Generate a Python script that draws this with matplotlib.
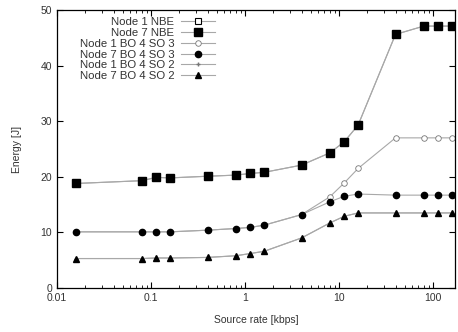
import matplotlib.pyplot as plt
from matplotlib.ticker import LogLocator, NullFormatter, FixedLocator

plt.rcParams['font.family'] = ['Liberation Sans', 'DejaVu Sans']

rate = [0.016, 0.08, 0.114, 0.16, 0.4, 0.8, 1.14, 1.6, 4, 8, 11.4, 16, 40, 80, 114, 160]

node1_nbe = [18.8, 19.3, 19.9, 19.8, 20.1, 20.3, 20.6, 20.8, 22.1, 24.3, 26.3, 29.3, 45.6, 47.1, 47.1, 47.1]
node7_nbe = [18.8, 19.3, 19.9, 19.8, 20.1, 20.3, 20.6, 20.8, 22.1, 24.3, 26.3, 29.3, 45.6, 47.1, 47.1, 47.1]
node1_so3 = [10.1, 10.1, 10.1, 10.1, 10.4, 10.7, 10.9, 11.3, 13.2, 16.4, 18.9, 21.5, 27.0, 27.0, 27.0, 27.0]
node7_so3 = [10.1, 10.1, 10.1, 10.1, 10.4, 10.7, 10.9, 11.3, 13.2, 15.5, 16.5, 16.9, 16.7, 16.7, 16.7, 16.7]
node1_so2 = [5.3, 5.3, 5.4, 5.4, 5.5, 5.8, 6.2, 6.6, 9.0, 11.7, 12.9, 13.5, 13.5, 13.5, 13.5, 13.5]
node7_so2 = [5.3, 5.3, 5.4, 5.4, 5.5, 5.8, 6.2, 6.6, 9.0, 11.7, 12.9, 13.5, 13.5, 13.5, 13.5, 13.5]

LINE = '#a8a8a8'
TXT = '#333333'

fig = plt.figure(figsize=(4.58, 3.32), dpi=100)
ax = fig.add_axes([0.1245, 0.1325, 0.8685, 0.8375])

ax.plot(rate, node1_nbe, color=LINE, lw=0.8, marker='s', ms=4, mfc='white', mec='black', mew=0.8, label='Node 1 NBE')
ax.plot(rate, node7_nbe, color=LINE, lw=0.8, marker='s', ms=6, mfc='black', mec='black', label='Node 7 NBE')
ax.plot(rate, node1_so3, color=LINE, lw=0.8, marker='o', ms=4, mfc='white', mec='#777777', mew=0.6, label='Node 1 BO 4 SO 3')
ax.plot(rate, node7_so3, color=LINE, lw=0.8, marker='o', ms=4.5, mfc='black', mec='black', label='Node 7 BO 4 SO 3')
ax.plot(rate, node1_so2, color=LINE, lw=0.8, marker='+', ms=3, mec='#777777', label='Node 1 BO 4 SO 2')
ax.plot(rate, node7_so2, color=LINE, lw=0.8, marker='^', ms=4, mfc='black', mec='black', label='Node 7 BO 4 SO 2')

ax.set_xscale('log')
ax.set_xlim(0.01, 171)
ax.set_ylim(0, 50)
ax.xaxis.set_major_locator(FixedLocator([0.01, 0.1, 1, 10, 100]))
ax.set_xticklabels(['0.01', '0.1', '1', '10', '100'])
ax.xaxis.set_minor_locator(LogLocator(base=10, subs=range(2, 10), numticks=20))
ax.xaxis.set_minor_formatter(NullFormatter())
ax.set_yticks([0, 10, 20, 30, 40, 50])

ax.tick_params(which='both', direction='in', top=True, right=True, colors='black', labelcolor=TXT, labelsize=7.5)
ax.tick_params(which='major', length=4, width=0.8)
ax.tick_params(which='minor', length=2, width=0.6)
for s in ax.spines.values():
    s.set_linewidth(0.9)

ax.set_xlabel('Source rate [kbps]', fontsize=7.5, color=TXT, labelpad=9)
ax.set_ylabel('Energy [J]', fontsize=7.5, color=TXT, labelpad=13)

leg = ax.legend(loc='upper right', bbox_to_anchor=(0.415, 1.0), markerfirst=False, frameon=False,
                fontsize=8.2, handlelength=3.0, handletextpad=0.6, labelspacing=0.08, borderaxespad=0.2)
for t in leg.get_texts():
    t.set_color(TXT)
    t.set_ha('right')
leg._legend_box.align = 'right'

fig.savefig('out.png', dpi=100)
